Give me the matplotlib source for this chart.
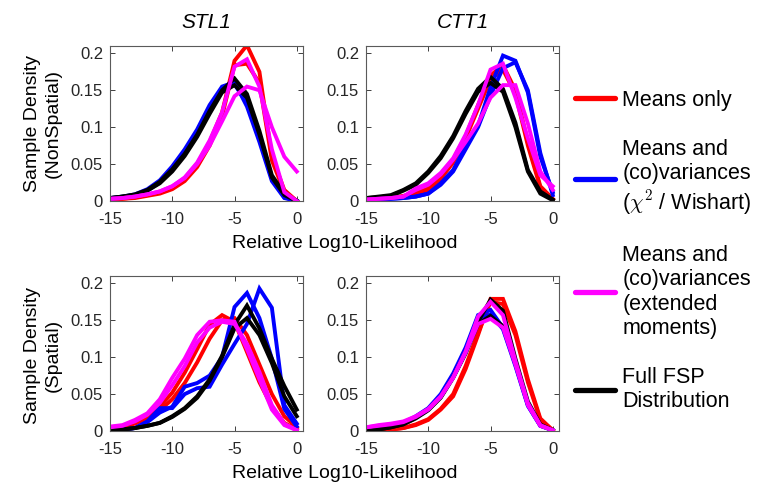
import numpy as np
import matplotlib
matplotlib.use("Agg")
import matplotlib.pyplot as plt
from matplotlib.lines import Line2D

plt.rcParams['font.family'] = ['Liberation Sans', 'DejaVu Sans']
plt.rcParams['mathtext.fontset'] = 'cm'
plt.rcParams['axes.unicode_minus'] = False

# relative log10-likelihood bins
loglik = np.arange(-15, 1)

# STL1, non-spatial model (two fits per method)
stl1_ns_means = [
    [0.002, 0.003, 0.005, 0.008, 0.012, 0.018, 0.030, 0.050, 0.080, 0.120, 0.190, 0.211, 0.175, 0.060, 0.015, 0.000],
    [0.002, 0.003, 0.004, 0.007, 0.010, 0.016, 0.027, 0.046, 0.075, 0.115, 0.184, 0.186, 0.160, 0.055, 0.012, 0.000]]
stl1_ns_chi2 = [
    [0.004, 0.006, 0.009, 0.016, 0.028, 0.047, 0.070, 0.097, 0.130, 0.155, 0.161, 0.128, 0.080, 0.027, 0.004, 0.000],
    [0.003, 0.005, 0.008, 0.014, 0.025, 0.043, 0.066, 0.093, 0.126, 0.150, 0.158, 0.133, 0.085, 0.030, 0.005, 0.000]]
stl1_ns_ext = [
    [0.003, 0.004, 0.006, 0.009, 0.013, 0.020, 0.032, 0.052, 0.082, 0.120, 0.182, 0.192, 0.155, 0.070, 0.012, 0.000],
    [0.003, 0.004, 0.006, 0.009, 0.013, 0.020, 0.031, 0.050, 0.075, 0.108, 0.142, 0.155, 0.150, 0.100, 0.060, 0.040]]
stl1_ns_fsp = [
    [0.004, 0.006, 0.009, 0.015, 0.026, 0.043, 0.064, 0.090, 0.122, 0.150, 0.166, 0.145, 0.095, 0.035, 0.010, 0.000],
    [0.004, 0.006, 0.008, 0.014, 0.024, 0.040, 0.061, 0.087, 0.118, 0.147, 0.157, 0.140, 0.090, 0.032, 0.008, 0.000]]

# CTT1, non-spatial model
ctt1_ns_means = [
    [0.002, 0.003, 0.004, 0.007, 0.011, 0.017, 0.033, 0.056, 0.088, 0.130, 0.170, 0.184, 0.150, 0.080, 0.020, 0.003],
    [0.002, 0.003, 0.004, 0.006, 0.010, 0.015, 0.030, 0.052, 0.085, 0.125, 0.165, 0.178, 0.145, 0.075, 0.018, 0.002]]
ctt1_ns_chi2 = [
    [0.001, 0.002, 0.003, 0.004, 0.006, 0.010, 0.024, 0.042, 0.074, 0.102, 0.154, 0.197, 0.190, 0.147, 0.060, 0.012],
    [0.001, 0.002, 0.003, 0.004, 0.006, 0.010, 0.022, 0.040, 0.070, 0.100, 0.143, 0.180, 0.188, 0.150, 0.065, 0.008]]
ctt1_ns_ext = [
    [0.002, 0.003, 0.004, 0.006, 0.017, 0.024, 0.038, 0.058, 0.090, 0.130, 0.178, 0.186, 0.140, 0.085, 0.035, 0.020],
    [0.002, 0.003, 0.004, 0.006, 0.015, 0.022, 0.036, 0.056, 0.080, 0.105, 0.140, 0.157, 0.157, 0.105, 0.040, 0.015]]
ctt1_ns_fsp = [
    [0.004, 0.006, 0.008, 0.015, 0.024, 0.040, 0.061, 0.088, 0.122, 0.152, 0.168, 0.152, 0.106, 0.042, 0.013, 0.002],
    [0.004, 0.005, 0.007, 0.014, 0.022, 0.038, 0.058, 0.085, 0.118, 0.148, 0.160, 0.148, 0.100, 0.040, 0.010, 0.001]]

# STL1, spatial model
stl1_sp_means = [
    [0.003, 0.006, 0.011, 0.020, 0.033, 0.052, 0.079, 0.111, 0.144, 0.157, 0.148, 0.107, 0.066, 0.033, 0.011, 0.002],
    [0.003, 0.005, 0.010, 0.017, 0.028, 0.043, 0.065, 0.093, 0.125, 0.150, 0.153, 0.130, 0.090, 0.050, 0.020, 0.005]]
stl1_sp_chi2 = [
    [0.001, 0.002, 0.004, 0.013, 0.031, 0.031, 0.050, 0.058, 0.060, 0.090, 0.118, 0.145, 0.193, 0.167, 0.035, 0.010],
    [0.001, 0.002, 0.004, 0.012, 0.025, 0.033, 0.060, 0.065, 0.075, 0.100, 0.168, 0.187, 0.153, 0.098, 0.030, 0.006]]
stl1_sp_ext = [
    [0.006, 0.008, 0.015, 0.024, 0.043, 0.072, 0.098, 0.130, 0.148, 0.150, 0.148, 0.111, 0.070, 0.029, 0.008, 0.001],
    [0.005, 0.007, 0.013, 0.022, 0.038, 0.062, 0.088, 0.120, 0.140, 0.148, 0.145, 0.118, 0.080, 0.035, 0.010, 0.001]]
stl1_sp_fsp = [
    [0.001, 0.002, 0.004, 0.007, 0.011, 0.020, 0.031, 0.047, 0.070, 0.102, 0.144, 0.170, 0.139, 0.098, 0.061, 0.029],
    [0.001, 0.002, 0.004, 0.007, 0.011, 0.019, 0.030, 0.045, 0.068, 0.100, 0.139, 0.153, 0.130, 0.092, 0.047, 0.020]]

# CTT1, spatial model
ctt1_sp_means = [
    [0.000, 0.001, 0.002, 0.004, 0.008, 0.015, 0.029, 0.047, 0.084, 0.130, 0.179, 0.179, 0.135, 0.070, 0.017, 0.001],
    [0.000, 0.001, 0.002, 0.004, 0.009, 0.016, 0.030, 0.050, 0.088, 0.133, 0.175, 0.172, 0.130, 0.066, 0.015, 0.001]]
ctt1_sp_chi2 = [
    [0.001, 0.003, 0.006, 0.011, 0.020, 0.031, 0.050, 0.078, 0.113, 0.157, 0.164, 0.140, 0.090, 0.035, 0.007, 0.001],
    [0.001, 0.003, 0.006, 0.011, 0.019, 0.030, 0.048, 0.075, 0.110, 0.152, 0.158, 0.138, 0.088, 0.034, 0.007, 0.001]]
ctt1_sp_ext = [
    [0.005, 0.008, 0.010, 0.013, 0.020, 0.030, 0.047, 0.073, 0.108, 0.155, 0.175, 0.157, 0.095, 0.038, 0.008, 0.001],
    [0.005, 0.007, 0.009, 0.012, 0.019, 0.029, 0.046, 0.072, 0.106, 0.145, 0.152, 0.140, 0.090, 0.035, 0.007, 0.001]]
ctt1_sp_fsp = [
    [0.001, 0.002, 0.005, 0.009, 0.018, 0.029, 0.046, 0.073, 0.107, 0.148, 0.178, 0.163, 0.098, 0.040, 0.009, 0.001],
    [0.001, 0.002, 0.005, 0.009, 0.017, 0.028, 0.045, 0.072, 0.105, 0.145, 0.156, 0.142, 0.093, 0.037, 0.008, 0.001]]

genes = ['STL1', 'CTT1']
method_labels = ['Means only',
                 'Means and\n(co)variances\n($\\chi^2$ / Wishart)',
                 'Means and\n(co)variances\n(extended\nmoments)',
                 'Full FSP\nDistribution']
method_colors = ['#ff0000', '#0000ff', '#ff00ff', '#000000']
draw_order = [0, 1, 3, 2]

panels = [[[stl1_ns_means, stl1_ns_chi2, stl1_ns_ext, stl1_ns_fsp],
           [ctt1_ns_means, ctt1_ns_chi2, ctt1_ns_ext, ctt1_ns_fsp]],
          [[stl1_sp_means, stl1_sp_chi2, stl1_sp_ext, stl1_sp_fsp],
           [ctt1_sp_means, ctt1_sp_chi2, ctt1_sp_ext, ctt1_sp_fsp]]]

W, H = 761, 487
fig = plt.figure(figsize=(W / 100, H / 100), dpi=100)

lefts = [110, 366]
tops = [46, 276]
aw, ah = 193, 155

for r in range(2):
    for c in range(2):
        ax = fig.add_axes([lefts[c] / W, 1 - (tops[r] + ah) / H, aw / W, ah / H])
        for m in draw_order:
            for curve in panels[r][c][m]:
                ax.plot(loglik, curve, color=method_colors[m], lw=2.8,
                        solid_joinstyle='miter')
        ax.set_xlim(-15, 0.5)
        ax.set_ylim(0, 0.21)
        ax.set_xticks([-15, -10, -5, 0])
        ax.set_yticks([0, 0.05, 0.1, 0.15, 0.2])
        ax.set_yticklabels(['0', '0.05', '0.1', '0.15', '0.2'])
        ax.tick_params(direction='in', top=True, right=True, length=3.5,
                       width=0.7, labelsize=12, colors='#404040',
                       labelcolor='#262626')
        ax.tick_params(axis='x', pad=8)
        ax.tick_params(axis='y', pad=5)
        for s in ax.spines.values():
            s.set_color('#5a5a5a')
            s.set_linewidth(0.8)
        if r == 0:
            ax.set_title(genes[c], style='italic', fontsize=15, pad=13)

# row labels and shared x labels
fig.text(43 / W, 1 - 124 / H, 'Sample Density\n(NonSpatial)', rotation=90,
         ha='center', va='center', fontsize=14, linespacing=1.3)
fig.text(43 / W, 1 - 355 / H, 'Sample Density\n(Spatial)', rotation=90,
         ha='center', va='center', fontsize=14, linespacing=1.3)
fig.text(345 / W, 1 - 243 / H, 'Relative Log10-Likelihood', ha='center',
         va='center', fontsize=14)
fig.text(345 / W, 1 - 473 / H, 'Relative Log10-Likelihood', ha='center',
         va='center', fontsize=14)

handles = [Line2D([], [], color=col, lw=3.8, solid_capstyle='round')
           for col in method_colors]
fig.legend(handles, method_labels, loc='center left',
           bbox_to_anchor=(575 / W, 1 - 251 / H), frameon=False,
           fontsize=15.5, handlelength=1.85, handletextpad=0.35,
           labelspacing=1.3, borderpad=0, borderaxespad=0)

fig.savefig('out.png', dpi=100)
